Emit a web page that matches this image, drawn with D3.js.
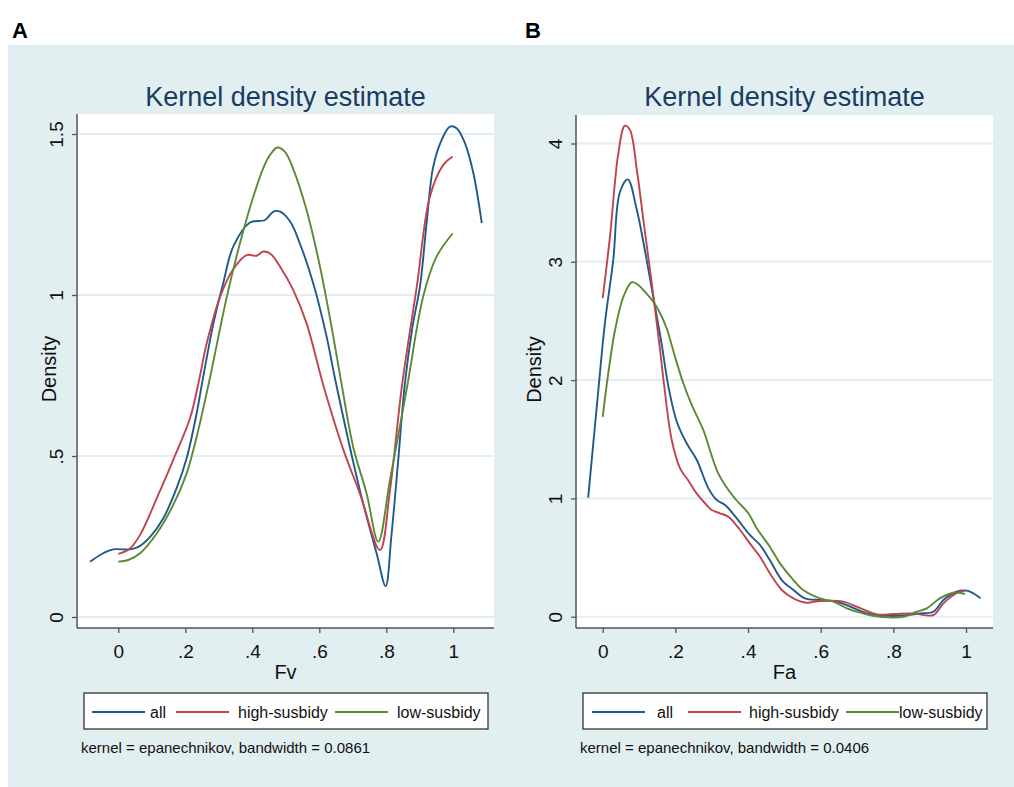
<!DOCTYPE html>
<html>
<head>
<meta charset="utf-8">
<script src="https://cdn.jsdelivr.net/npm/d3@7"></script>
<style>
  body { margin: 0; background: #fff; }
  text { font-family: "Liberation Sans", Arial, sans-serif; }
</style>
</head>
<body>
<div id="grafica"></div>
<script>
// Panel A: Fv
const fvAllX  = [-0.084, -0.045, -0.015, 0.035, 0.060, 0.095, 0.134, 0.174, 0.204, 0.234, 0.249, 0.284, 0.313, 0.343, 0.393, 0.438, 0.463, 0.483, 0.513, 0.542, 0.582, 0.622, 0.647, 0.721, 0.771, 0.798, 0.815, 0.835, 0.855, 0.878, 0.901, 0.920, 0.940, 0.965, 0.990, 1.010, 1.035, 1.060, 1.085]
const fvAllY  = [0.172, 0.198, 0.210, 0.210, 0.218, 0.249, 0.306, 0.400, 0.493, 0.633, 0.720, 0.912, 1.036, 1.150, 1.225, 1.233, 1.259, 1.259, 1.228, 1.160, 1.036, 0.870, 0.740, 0.394, 0.198, 0.096, 0.250, 0.480, 0.720, 0.900, 1.030, 1.220, 1.398, 1.481, 1.523, 1.518, 1.471, 1.378, 1.223]
const fvHighX = [0.0, 0.035, 0.065, 0.115, 0.164, 0.214, 0.239, 0.264, 0.304, 0.343, 0.383, 0.413, 0.433, 0.453, 0.483, 0.522, 0.562, 0.612, 0.672, 0.721, 0.781, 0.811, 0.847, 0.891, 0.930, 0.970, 0.998]
const fvHighY = [0.196, 0.213, 0.255, 0.369, 0.488, 0.617, 0.725, 0.850, 0.995, 1.080, 1.124, 1.122, 1.135, 1.129, 1.088, 1.016, 0.912, 0.720, 0.519, 0.384, 0.208, 0.394, 0.720, 1.026, 1.305, 1.404, 1.430]
const fvLowX  = [0.0, 0.030, 0.065, 0.115, 0.164, 0.204, 0.234, 0.271, 0.324, 0.363, 0.403, 0.433, 0.453, 0.475, 0.497, 0.522, 0.562, 0.602, 0.642, 0.667, 0.701, 0.741, 0.776, 0.811, 0.863, 0.910, 0.950, 0.998]
const fvLowY  = [0.172, 0.177, 0.198, 0.260, 0.348, 0.446, 0.560, 0.730, 0.995, 1.160, 1.305, 1.395, 1.435, 1.458, 1.445, 1.392, 1.264, 1.088, 0.870, 0.720, 0.529, 0.384, 0.234, 0.425, 0.720, 0.995, 1.119, 1.191]

// Panel B: Fa
const faAllX  = [-0.040, -0.012, 0.006, 0.029, 0.047, 0.069, 0.094, 0.116, 0.139, 0.162, 0.180, 0.204, 0.231, 0.259, 0.291, 0.314, 0.337, 0.369, 0.405, 0.433, 0.460, 0.493, 0.525, 0.557, 0.598, 0.644, 0.681, 0.727, 0.763, 0.800, 0.837, 0.873, 0.910, 0.938, 0.974, 1.002, 1.020, 1.040]
const faAllY  = [1.006, 1.916, 2.480, 3.015, 3.586, 3.697, 3.438, 3.100, 2.705, 2.311, 1.960, 1.648, 1.466, 1.325, 1.085, 0.986, 0.944, 0.832, 0.691, 0.606, 0.479, 0.310, 0.226, 0.155, 0.141, 0.127, 0.085, 0.028, 0.014, 0.006, 0.014, 0.028, 0.042, 0.141, 0.211, 0.220, 0.198, 0.155]
const faHighX = [0.0, 0.020, 0.043, 0.061, 0.075, 0.094, 0.112, 0.135, 0.158, 0.169, 0.190, 0.213, 0.236, 0.259, 0.286, 0.300, 0.323, 0.346, 0.378, 0.405, 0.433, 0.460, 0.493, 0.525, 0.561, 0.598, 0.662, 0.699, 0.754, 0.800, 0.855, 0.910, 0.938, 0.974, 0.997]
const faHighY = [2.692, 3.212, 3.917, 4.150, 4.114, 3.776, 3.353, 2.818, 2.254, 1.960, 1.494, 1.254, 1.150, 1.040, 0.944, 0.902, 0.874, 0.845, 0.733, 0.620, 0.507, 0.367, 0.226, 0.155, 0.118, 0.133, 0.127, 0.085, 0.020, 0.023, 0.028, 0.014, 0.113, 0.198, 0.220]
const faLowX  = [0.0, 0.011, 0.034, 0.057, 0.080, 0.098, 0.116, 0.139, 0.158, 0.176, 0.199, 0.222, 0.245, 0.277, 0.318, 0.360, 0.401, 0.424, 0.460, 0.488, 0.525, 0.552, 0.598, 0.635, 0.672, 0.717, 0.763, 0.828, 0.864, 0.892, 0.928, 0.965, 0.997]
const faLowY  = [1.690, 1.960, 2.423, 2.705, 2.827, 2.804, 2.747, 2.663, 2.565, 2.438, 2.198, 1.973, 1.790, 1.578, 1.212, 1.014, 0.874, 0.747, 0.592, 0.451, 0.310, 0.226, 0.155, 0.127, 0.071, 0.028, 0.0, 0.0, 0.042, 0.071, 0.155, 0.203, 0.192]

const seriesNames = ["all", "high-susbidy", "low-susbidy"]
const xTicks = [0, 0.2, 0.4, 0.6, 0.8, 1]
const yTicksA = [0, 0.5, 1, 1.5]
const yTicksB = [0, 1, 2, 3, 4]
const fmt = d => d === 0 ? "0" : String(d).replace(/^0\./, ".")

const colores = ["#1f5a8b", "#c0434f", "#5a8a36"]

const anchoTotal = 1014
const altoTotal = 787

const svg = d3.select("#grafica").append("svg")
    .attr("width", anchoTotal)
    .attr("height", altoTotal)

svg.append("rect")
    .attr("x", 8).attr("y", 45)
    .attr("width", anchoTotal - 8).attr("height", altoTotal - 45)
    .attr("fill", "#e2eff1")

const drawPanel = (p) => {
    const g = svg.append("g")

    // area del grafico
    g.append("rect")
        .attr("x", p.left).attr("y", p.top)
        .attr("width", p.right - p.left).attr("height", p.bottom - p.top)
        .attr("fill", "#fff")

    const x = d3.scaleLinear().domain([0, 1]).range(p.xRange)
    const y = d3.scaleLinear().domain(p.yDomain).range(p.yRange)

    // grid
    g.append("g").selectAll("line").data(p.yTicks).join("line")
        .attr("x1", p.left).attr("x2", p.right)
        .attr("y1", d => y(d)).attr("y2", d => y(d))
        .attr("stroke", "#e2eef2").attr("stroke-width", 2)

    // lineas
    const line = d3.line()
        .x(d => x(d[0])).y(d => y(d[1]))
        .curve(d3.curveCatmullRom.alpha(0.5))
    p.series.forEach((s, i) => {
        g.append("path")
            .datum(d3.zip(s[0], s[1]))
            .attr("d", line)
            .attr("fill", "none")
            .attr("stroke", colores[i])
            .attr("stroke-width", 1.9)
    })

    // ejes
    const xAxis = g.append("g")
        .attr("transform", `translate(0,${p.bottom})`)
        .call(d3.axisBottom(x).tickValues(xTicks).tickFormat(fmt).tickSize(5))
    const yAxis = g.append("g")
        .attr("transform", `translate(${p.left},0)`)
        .call(d3.axisLeft(y).tickValues(p.yTicks).tickFormat(fmt).tickSize(5))
    ;[xAxis, yAxis].forEach(a => {
        a.select(".domain").remove()
        a.selectAll(".tick line").attr("stroke", "#555").attr("stroke-width", 1.3)
        a.selectAll(".tick text").attr("fill", "#111").style("font-size", "19px")
            .style("font-family", '"Liberation Sans", Arial, sans-serif')
    })
    xAxis.selectAll(".tick text").attr("y", 30).attr("dy", 0)
    yAxis.selectAll(".tick text")
        .attr("x", 0).attr("dy", 0).attr("text-anchor", "middle")
        .attr("transform", "translate(-14,0) rotate(-90)")

    g.append("line")
        .attr("x1", p.left).attr("x2", p.right)
        .attr("y1", p.bottom).attr("y2", p.bottom)
        .attr("stroke", "#555").attr("stroke-width", 1.5)
    g.append("line")
        .attr("x1", p.left).attr("x2", p.left)
        .attr("y1", p.top).attr("y2", p.bottom)
        .attr("stroke", "#555").attr("stroke-width", 1.5)

    const cx = (p.left + p.right) / 2
    g.append("text").attr("x", cx).attr("y", 679)
        .attr("text-anchor", "middle").style("font-size", "20px").attr("fill", "#111")
        .text(p.xLabel)
    g.append("text")
        .attr("transform", `translate(${p.densX},${(p.top + p.bottom) / 2 - 2}) rotate(-90)`)
        .attr("text-anchor", "middle").style("font-size", "20px").attr("fill", "#111")
        .text("Density")

    // titulo
    g.append("text").attr("x", cx).attr("y", 106)
        .attr("text-anchor", "middle").style("font-size", "27px").attr("fill", "#1a3b63")
        .text("Kernel density estimate")
    g.append("text").attr("x", p.labelX).attr("y", 38)
        .style("font-size", "22px").style("font-weight", "bold").attr("fill", "#000")
        .text(p.label)

    // leyenda
    const lg = g.append("g").attr("transform", `translate(${p.left + 7},693)`)
    lg.append("rect").attr("width", 404).attr("height", 36)
        .attr("fill", "#fff").attr("stroke", "#333").attr("stroke-width", 1.3)
    seriesNames.forEach((n, i) => {
        const it = p.legend[i]
        lg.append("line").attr("x1", it[0]).attr("x2", it[0] + 53)
            .attr("y1", 19).attr("y2", 19)
            .attr("stroke", colores[i]).attr("stroke-width", 1.9)
        lg.append("text").attr("x", it[1]).attr("y", 24.5)
            .style("font-size", "16px").attr("fill", "#111").text(n)
    })

    g.append("text").attr("x", p.left + 4).attr("y", 753)
        .style("font-size", "15px").attr("fill", "#111")
        .text(p.note)
}

drawPanel({
    label: "A", labelX: 12,
    left: 77, right: 494, top: 114, bottom: 628,
    xRange: [118.3, 453.3], yDomain: [0, 1.5], yRange: [617, 134],
    yTicks: yTicksA, xLabel: "Fv", densX: 56,
    series: [[fvAllX, fvAllY], [fvHighX, fvHighY], [fvLowX, fvLowY]],
    legend: [[8, 66], [92, 154], [251, 313]],
    note: "kernel = epanechnikov, bandwidth = 0.0861"
})

drawPanel({
    label: "B", labelX: 525,
    left: 576, right: 993, top: 115, bottom: 628,
    xRange: [602.7, 966], yDomain: [0, 4], yRange: [616.7, 143.5],
    yTicks: yTicksB, xLabel: "Fa", densX: 541,
    series: [[faAllX, faAllY], [faHighX, faHighY], [faLowX, faLowY]],
    legend: [[9, 74], [105, 166], [263, 316]],
    note: "kernel = epanechnikov, bandwidth = 0.0406"
})
</script>
</body>
</html>
